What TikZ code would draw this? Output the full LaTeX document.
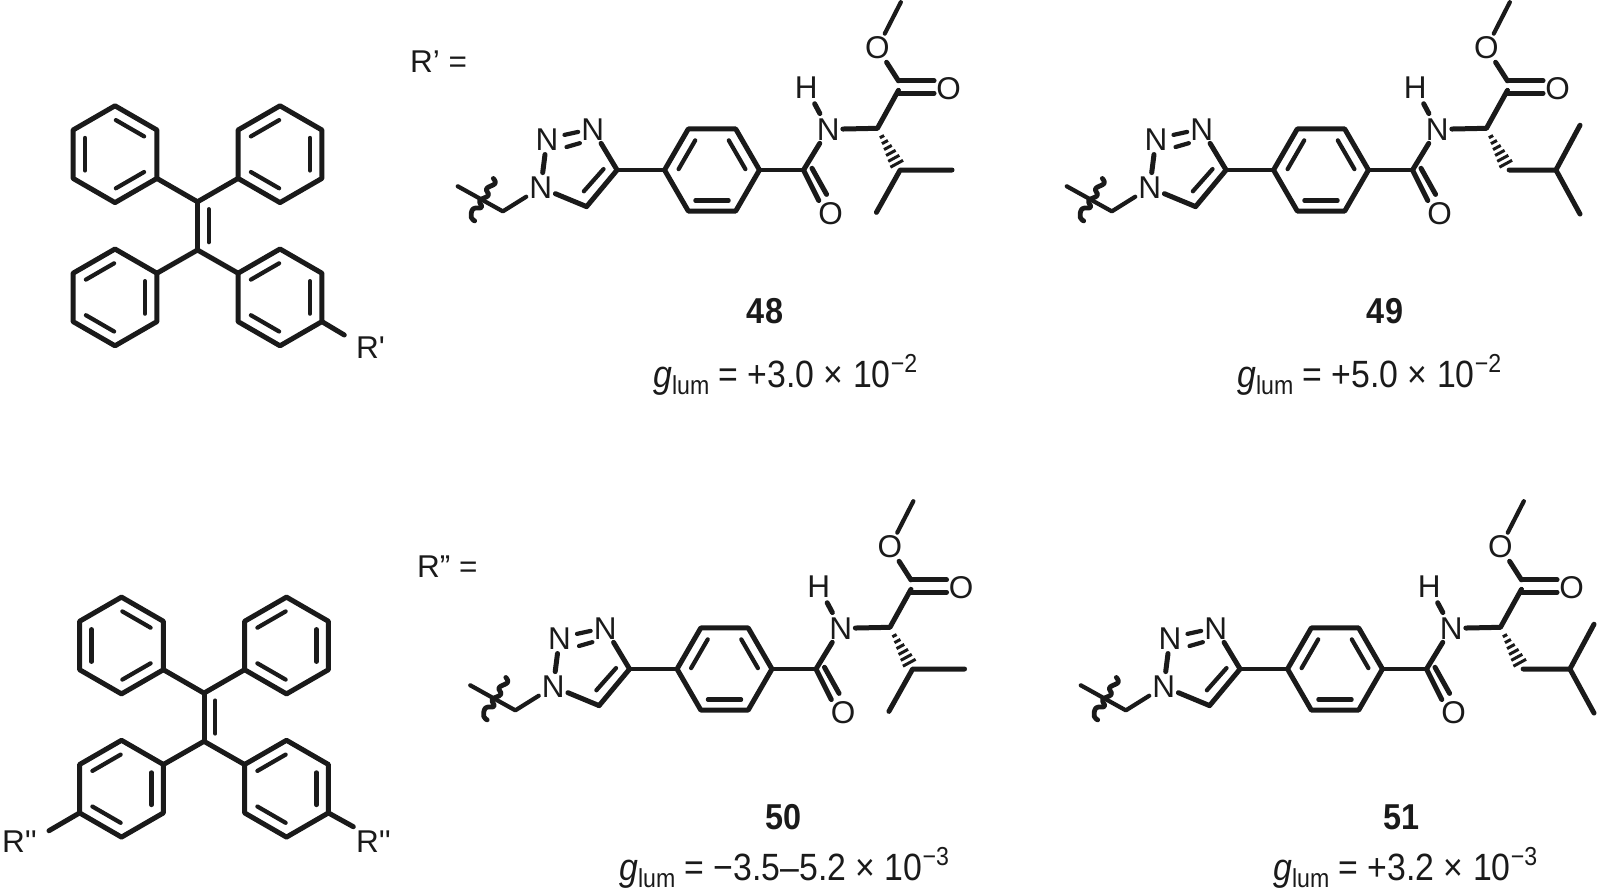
\documentclass[tikz,border=0pt]{standalone}
\usepackage{fontspec}
\setmainfont{Liberation Sans}
\newfontfamily\plainf{Liberation Sans}
\usetikzlibrary{calc}
\definecolor{ink}{HTML}{1A1A1A}
\newcommand\lab{\fontsize{31.5}{32}\selectfont}
\newcommand\glum[2]{\fontsize{38}{40}\selectfont\addfontfeatures{FakeStretch=.89}\textit{g}\raisebox{-7pt}{\fontsize{26}{26}\selectfont\addfontfeatures{FakeStretch=.89}lum} = #1 × 10\raisebox{15pt}{\fontsize{26}{26}\selectfont\addfontfeatures{FakeStretch=.89}#2}}
\tikzset{
  bond/.style={line width=5pt,line cap=round,line join=round,draw=ink},
  inbond/.style={line width=4.2pt,line cap=round,draw=ink,shorten >=1pt,shorten <=1pt},
  thin bond/.style={line width=4.2pt,line cap=round,line join=round,draw=ink},
  atom/.style={text=ink,inner sep=3pt,font=\lab},
  txt/.style={text=ink,inner sep=0pt,font=\lab},
  cmp/.style={text=ink,inner sep=0pt,font=\fontsize{36}{38}\selectfont\bfseries\addfontfeatures{FakeStretch=.9}},
  lumtxt/.style={text=ink,inner sep=0pt,anchor=base west}
}
% pointy-top ring: name, cx, cy, kind (a or b)
\newcommand\pring[4]{%
  \foreach \i/\dx/\dy in {1/0/-1,2/.866/-.5,3/.866/.5,4/0/1,5/-.866/.5,6/-.866/-.5}{
    \coordinate (#1v\i) at ({#2+48.4*\dx},{#3+48.4*\dy});
    \coordinate (#1i\i) at ({#2+34.6*\dx},{#3+34.6*\dy});
  }
  \draw[bond] (#1v1)--(#1v2)--(#1v3)--(#1v4)--(#1v5)--(#1v6)--cycle;
  \if#4a
    \draw[inbond] (#1i6)--(#1i5); \draw[inbond] (#1i1)--(#1i2); \draw[inbond] (#1i3)--(#1i4);
  \else
    \draw[inbond] (#1i6)--(#1i1); \draw[inbond] (#1i2)--(#1i3); \draw[inbond] (#1i4)--(#1i5);
  \fi
}
% tetraphenylethene core: prefix, ox, oy
\newcommand\tpe[3]{%
  \pring{#1A}{#2}{#3}{a}
  \pring{#1B}{#2+165}{#3}{b}
  \pring{#1C}{#2}{#3+143.2}{b}
  \pring{#1D}{#2+165}{#3+143.2}{b}
  \coordinate (#1t) at (#2+82.5,#3+47.6);
  \coordinate (#1u) at (#2+82.5,#3+95.8);
  \coordinate (#1p) at (#2+93.8,#3+54);
  \coordinate (#1q) at (#2+93.8,#3+89);
  \draw[bond] (#1t)--(#1u);
  \draw[inbond] (#1p)--(#1q);
  \draw[bond] (#1Av3)--(#1t)--(#1Bv5);
  \draw[bond] (#1Cv2)--(#1u)--(#1Dv6);
}
% side chain: prefix, cx, cy, v (valine) or l (leucine); units are 1/2.95 px
\newcommand\chain[4]{%
 \begin{scope}[shift={(#2,#3)},x=0.339pt,y=-0.339pt]
  \foreach \i/\a/\b in {1/140/0,2/70/121,3/-70/121,4/-140/0,5/-70/-121,6/70/-121}{
    \coordinate (#1r\i) at (\a,\b);
  }
  \draw[bond] (#1r1)--(#1r2)--(#1r3)--(#1r4)--(#1r5)--(#1r6)--cycle;
  \coordinate (#1p1) at (-48,-90); \coordinate (#1p2) at (-100,0);
  \coordinate (#1p3) at (48,-90); \coordinate (#1p4) at (100,0);
  \coordinate (#1p5) at (-52,90); \coordinate (#1p6) at (52,90);
  \draw[inbond] (#1p1)--(#1p2); \draw[inbond] (#1p3)--(#1p4); \draw[inbond] (#1p5)--(#1p6);
  % triazole
  \node[atom] (#1N1) at (-505,52) {N};
  \node[atom] (#1N2) at (-487,-90) {N};
  \node[atom] (#1N3) at (-352,-120) {N};
  \coordinate (#1C4) at (-280,0);
  \coordinate (#1C5) at (-370,108);
  \coordinate (#1CH) at (-617,122);
  \coordinate (#1X) at (-750,48);
  \draw[thin bond] (#1C4)--(#1r4);
  \draw[bond] (#1C5)--(#1C4);
  \draw[bond] (#1N1)--(#1C5);
  \draw[bond] (#1C4)--(#1N3);
  \coordinate (#1d1) at (-380,65); \coordinate (#1d2) at (-318,-5);
  \draw[inbond] (#1d1)--(#1d2);
  \coordinate (#1e1) at (-438,-103); \coordinate (#1e2) at (-392,-113);
  \coordinate (#1e3) at (-432,-67); \coordinate (#1e4) at (-387,-80);
  \draw[inbond] (#1e1)--(#1e2); \draw[inbond] (#1e3)--(#1e4);
  \draw[bond,shorten >=1pt,shorten <=1pt] (#1N2)--(#1N1);
  \draw[thin bond] (#1N1)--(#1CH)--(#1X);
  \draw[bond,line width=4.8pt] plot[smooth,tension=.7] coordinates {(-645,25) (-640,40) (-665,55) (-660,75) (-685,90) (-680,110) (-705,115) (-710,140) (-700,150)};
  % amide
  \coordinate (#1CO) at (270,0);
  \node[atom] (#1O1) at (350,130) {O};
  \node[atom] (#1NH) at (343,-120) {N};
  \node[atom] (#1H) at (278,-242) {H};
  \draw[thin bond] (#1r1)--(#1CO);
  \coordinate (#1f1) at (315,90); \coordinate (#1f2) at (295,-5); \coordinate (#1f3) at (338,72);
  \draw[bond] (#1CO)--(#1f1); \draw[bond] (#1f2)--(#1f3);
  \draw[bond] (#1CO)--(#1NH);
  \draw[bond,shorten >=2pt,shorten <=2pt] (#1H)--(#1NH);
  % alpha carbon and ester
  \coordinate (#1Ca) at (488,-123);
  \coordinate (#1Cb) at (555,0);
  \coordinate (#1Ce) at (550,-235);
  \node[atom] (#1O2) at (698,-240) {O};
  \node[atom] (#1O3) at (488,-360) {O};
  \coordinate (#1Me) at (557,-495);
  \draw[bond] (#1NH)--(#1Ca)--(#1Ce);
  \coordinate (#1g1) at (550,-263); \coordinate (#1g2) at (655,-263);
  \coordinate (#1g3) at (550,-227); \coordinate (#1g4) at (655,-227);
  \draw[bond] (#1g1)--(#1g2); \draw[bond] (#1g3)--(#1g4);
  \draw[bond] (#1g1)--(#1O3);
  \draw[thin bond] (#1O3)--(#1Me);
  % hashed wedge
  \foreach \t/\h in {.2/2.4,.33/3.4,.46/4.4,.59/5.4,.72/6.3,.85/7.2}{
    \draw[line width=3pt,draw=ink] ($(#1Ca)!\t!(#1Cb)!\h pt!90:(#1Cb)$)--($(#1Ca)!\t!(#1Cb)!\h pt!-90:(#1Cb)$);
  }
  \if#4v
    \coordinate (#1M1) at (708,0); \coordinate (#1M2) at (485,125);
    \draw[bond] (#1M1)--(#1Cb)--(#1M2);
  \else
    \coordinate (#1Cg) at (693,0); \coordinate (#1M1) at (764,-132); \coordinate (#1M2) at (764,130);
    \draw[bond] (#1Cb)--(#1Cg)--(#1M1); \draw[bond] (#1Cg)--(#1M2);
  \fi
 \end{scope}
}
\begin{document}
\begin{tikzpicture}[x=1pt,y=-1pt]
\useasboundingbox (0,0) rectangle (1604,892);
% upper core
\tpe{a}{115}{154.2}
\node[txt,anchor=base west] (ar) at (356,358) {\plainf R'};
\coordinate (arb) at (344.3,335);
\draw[bond] (aDv3)--(arb);
% lower core
\tpe{b}{121.5}{645.5}
\node[txt,anchor=base west] (br1) at (2,852) {\plainf R''};
\node[txt,anchor=base west] (br2) at (356,852) {\plainf R''};
\coordinate (bl1) at (49,830.7);
\coordinate (bl2) at (353.3,826.7);
\draw[bond] (bCv5)--(bl1);
\draw[bond] (bDv3)--(bl2);
% prefixes
\node[txt,anchor=base west] (rp) at (410,72) {R’ =};
\node[txt,anchor=base west] (rpp) at (417,577) {R” =};
% chains
\chain{m}{712}{170}{v}
\chain{n}{1321}{170}{l}
\chain{o}{724.5}{669}{v}
\chain{q}{1335}{669}{l}
% compound numbers
\node[cmp] (n48) at (765,311) {48};
\node[cmp] (n49) at (1385,311) {49};
\node[cmp] (n50) at (783.5,817) {50};
\node[cmp] (n51) at (1401.5,817) {51};
% g values
\node[lumtxt] (g48) at (653,387) {\glum{+3.0}{−2}};
\node[lumtxt] (g49) at (1237,387) {\glum{+5.0}{−2}};
\node[lumtxt] (g50) at (619,880) {\glum{−3.5–5.2}{−3}};
\node[lumtxt] (g51) at (1273,880) {\glum{+3.2}{−3}};
\end{tikzpicture}
\end{document}
